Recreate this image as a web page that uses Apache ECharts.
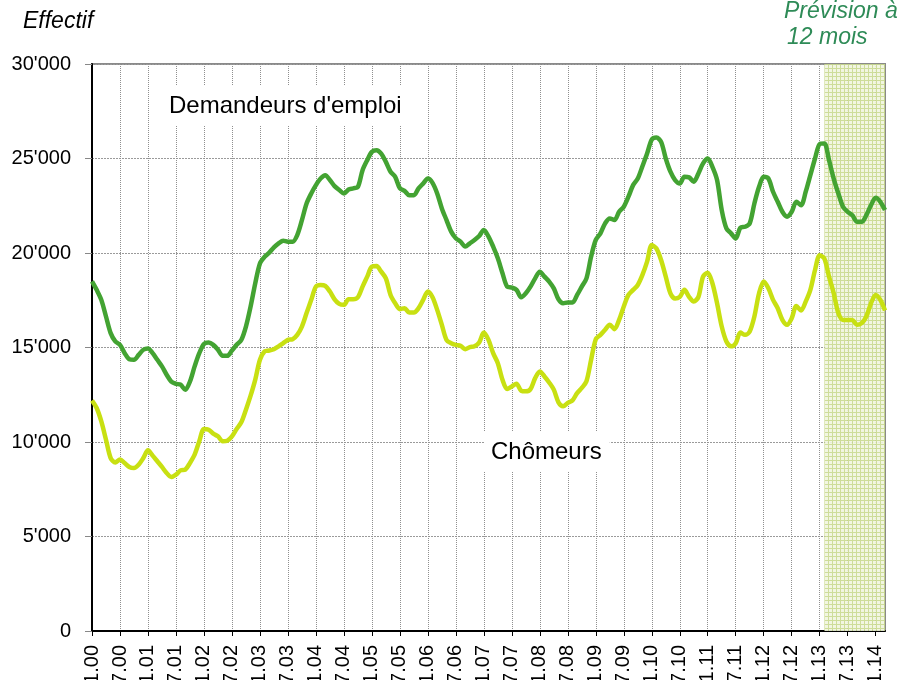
<!DOCTYPE html>
<html>
<head>
<meta charset="utf-8">
<script src="https://cdn.jsdelivr.net/npm/echarts@6/dist/echarts.min.js"></script>
<style>
  html, body { margin: 0; padding: 0; background: #fff; }
  #chart { width: 910px; height: 680px; }
</style>
</head>
<body>
<div id="chart"></div>
<script>
// mois de janvier 2000 à mars 2014 (étiquettes "m.aa")
var startYear = 2000;
var nbMois = 171;
var months = [];
for (var i = 0; i < nbMois; i++) {
	var m = (i % 12) + 1;
	var y = (startYear + Math.floor(i / 12)) % 100;
	months.push(m + '.' + (y < 10 ? '0' + y : '' + y));
}

// Demandeurs d'emploi (effectif mensuel)
var demandeurs = [
	18500, 18050, 17520, 16640, 15760, 15320, 15140, 14700, 14380, 14350, 14610, 14880,
	14950, 14700, 14350, 14000, 13560, 13200, 13080, 13030, 12760, 13200, 14000, 14700,
	15190, 15260, 15140, 14880, 14560, 14560, 14840, 15140, 15400, 16110, 17170, 18400,
	19450, 19800, 20020, 20300, 20510, 20650, 20600, 20600, 20950, 21740, 22620, 23150,
	23590, 23940, 24120, 23860, 23540, 23330, 23150, 23360, 23420, 23500, 24380, 24910,
	25350, 25440, 25260, 24820, 24300, 24030, 23420, 23290, 23060, 23060, 23420, 23680,
	23940, 23710, 23150, 22360, 21740, 21130, 20780, 20600, 20340, 20510, 20690, 20900,
	21220, 20870, 20340, 19720, 18930, 18220, 18170, 18050, 17660, 17870, 18220, 18660,
	19010, 18750, 18490, 18130, 17550, 17340, 17380, 17380, 17780, 18220, 18660, 19810,
	20690, 21040, 21570, 21830, 21740, 22180, 22450, 22980, 23590, 23940, 24590, 25260,
	26000, 26110, 25880, 25000, 24300, 23860, 23680, 24030, 24000, 23770, 24210, 24740,
	25000, 24560, 23860, 22270, 21300, 21040, 20770, 21340, 21390, 21570, 22620, 23500,
	24030, 23940, 23240, 22710, 22180, 21920, 22180, 22710, 22530, 23240, 24120, 25000,
	25760, 25790, 24910, 23940, 23150, 22450, 22180, 22000, 21650, 21650, 22000, 22530,
	22920, 22710, 22270
];

// Chômeurs
var chomeurs = [
	12200, 11800, 11090, 10120, 9150, 8920, 9070, 8890, 8680, 8620, 8800, 9150,
	9560, 9280, 8980, 8680, 8360, 8150, 8270, 8500, 8540, 8890, 9330, 10040,
	10690, 10650, 10440, 10300, 10040, 10070, 10300, 10690, 11040, 11710, 12450, 13300,
	14350, 14790, 14840, 14910, 15060, 15230, 15400, 15440, 15670, 16110, 16820, 17520,
	18220, 18310, 18260, 17960, 17550, 17310, 17260, 17550, 17550, 17660, 18220, 18750,
	19280, 19310, 19010, 18660, 17780, 17340, 17030, 17080, 16850, 16850, 17080, 17520,
	17960, 17660, 16990, 16200, 15400, 15230, 15140, 15090, 14910, 15020, 15060, 15270,
	15790, 15400, 14700, 14170, 13290, 12800, 12940, 13080, 12710, 12680, 12800, 13380,
	13730, 13470, 13150, 12770, 12100, 11890, 12070, 12200, 12590, 12860, 13210, 14350,
	15440, 15670, 15940, 16200, 15970, 16460, 17170, 17780, 18050, 18310, 18840, 19540,
	20420, 20240, 19630, 18750, 17870, 17590, 17680, 18050, 17680, 17430, 17680, 18750,
	18960, 18400, 17340, 16110, 15320, 15060, 15230, 15790, 15670, 15850, 16640, 17870,
	18490, 18130, 17520, 17080, 16460, 16200, 16550, 17200, 16960, 17430, 18050, 19100,
	19880, 19700, 18750, 17870, 16820, 16460, 16460, 16460, 16200, 16290, 16640, 17340,
	17780, 17520, 16960
];

// période de prévision (12 mois)
var prevision = ['2.13', '3.14'];

// motif quadrillé pour la zone de prévision
var motif = document.createElement('canvas');
motif.width = 4;
motif.height = 4;
var ctx = motif.getContext('2d');
ctx.fillStyle = '#f1f6df';
ctx.fillRect(0, 0, 4, 4);
ctx.fillStyle = '#c9da8f';
ctx.fillRect(0, 0, 4, 1);
ctx.fillRect(0, 0, 1, 4);

var chart = echarts.init(document.getElementById('chart'));

var gridLine = { show: true, interval: 5, lineStyle: { color: '#8f8f8f', width: 1, type: [1, 1] } };

chart.setOption({
	animation: false,
	backgroundColor: '#fff',
	textStyle: { fontFamily: 'Liberation Sans, Arial, sans-serif' },
	grid: {
		left: 92, right: 25, top: 64, bottom: 49,
		outerBoundsMode: 'none',
		containLabel: false,
		show: true, borderColor: '#8a8a8a', borderWidth: 2, backgroundColor: 'transparent'
	},
	xAxis: {
		type: 'category',
		data: months,
		boundaryGap: false,
		axisLine: { lineStyle: { color: '#000', width: 2 } },
		axisTick: { interval: 5, length: 5, lineStyle: { color: '#000' } },
		axisLabel: { interval: 5, rotate: 90, fontSize: 20, color: '#000', margin: 14 },
		splitLine: gridLine
	},
	yAxis: {
		type: 'value',
		min: 0, max: 30000, interval: 5000,
		axisLine: { show: true, lineStyle: { color: '#000', width: 2 } },
		axisTick: { show: true, length: 7, lineStyle: { color: '#888' } },
		axisLabel: {
			fontSize: 20, color: '#000', margin: 21,
			formatter: function (v) { return v === 0 ? '0' : (v / 1000) + "'000"; }
		},
		splitLine: { lineStyle: { color: '#9a9a9a', width: 1, type: [2, 1] } }
	},
	series: [
		{
			name: "Demandeurs d'emploi",
			type: 'line',
			data: demandeurs,
			smooth: 0.3,
			symbol: 'none',
			lineStyle: { color: '#43a332', width: 4.5 },
			z: 3,
			markArea: {
				silent: true,
				itemStyle: { color: { image: motif, repeat: 'repeat' }, opacity: 0.9 },
				data: [[{ xAxis: prevision[0] }, { xAxis: prevision[1] }]]
			}
		},
		{
			name: 'Chômeurs',
			type: 'line',
			data: chomeurs,
			smooth: 0.3,
			symbol: 'none',
			lineStyle: { color: '#c8e012', width: 4.5 },
			z: 3
		}
	],
	graphic: [
		{ type: 'text', left: 23, top: 10, style: { text: 'Effectif', font: 'italic 23px Liberation Sans, Arial', fill: '#000' } },
		{ type: 'text', left: 784, top: 0, style: { text: 'Prévision à', font: 'italic 23px Liberation Sans, Arial', fill: '#2e8b57' } },
		{ type: 'text', left: 787, top: 26, style: { text: '12 mois', font: 'italic 23px Liberation Sans, Arial', fill: '#2e8b57' } },
		{
			type: 'text', left: 164, top: 86, z: 10,
			style: { text: "Demandeurs d'emploi", font: '24px Liberation Sans, Arial', fill: '#000', backgroundColor: '#fff', padding: [8, 6, 8, 5] }
		},
		{
			type: 'text', left: 484, top: 432, z: 10,
			style: { text: 'Chômeurs', font: '24px Liberation Sans, Arial', fill: '#000', backgroundColor: '#fff', padding: [8, 8, 8, 7] }
		}
	]
});
</script>
</body>
</html>
